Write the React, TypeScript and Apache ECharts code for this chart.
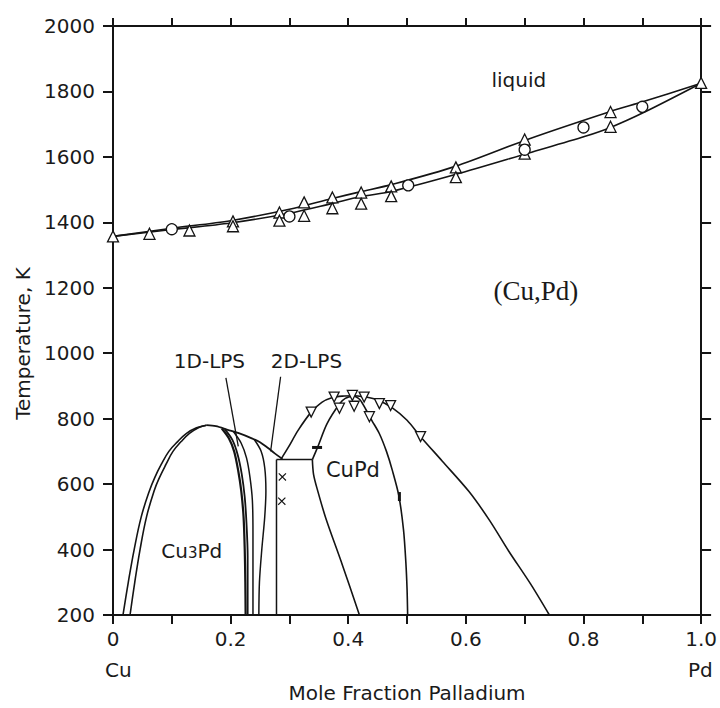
import React, { useEffect, useRef } from 'react';
import * as echarts from 'echarts';

// ---- Axis ticks ----
const xMin = 0, xMax = 1, xStep = 0.1;
const yMin = 200, yMax = 2000, yStep = 200;

// ---- Liquidus / solidus ----
const liquidus = [[0,1357],[0.1,1382],[0.2,1405],[0.3,1440],[0.373,1473],[0.42,1493],[0.475,1516],[0.582,1571],[0.707,1655],[0.846,1739],[0.902,1769],[1.0,1825]];
const solidus = [[0,1357],[0.1,1378],[0.2,1398],[0.3,1428],[0.373,1458],[0.42,1478],[0.475,1495],[0.582,1546],[0.707,1612],[0.803,1663],[0.846,1690],[0.904,1737],[1.0,1825]];
const liqTriangles = [[0,1357],[0.062,1365],[0.13,1375],[0.204,1403],[0.204,1388],[0.283,1430],[0.283,1405],[0.325,1461],[0.325,1420],[0.373,1476],[0.373,1443],[0.422,1491],[0.422,1457],[0.473,1510],[0.473,1480],[0.583,1568],[0.583,1538],[0.7,1653],[0.7,1610],[0.846,1737],[0.846,1692],[1.0,1826]];
const liqCircles = [[0.1,1379],[0.3,1418],[0.502,1513],[0.7,1622],[0.8,1690],[0.9,1753]];

// ---- Cu3Pd ordering dome ----
const cu3pdLeftOuter = [[0.017,200],[0.026,300],[0.036,400],[0.048,500],[0.062,580],[0.071,620],[0.082,660],[0.095,700],[0.11,730],[0.125,755],[0.142,772],[0.159,780]];
const cu3pdLeftInner = [[0.029,200],[0.037,300],[0.046,400],[0.057,500],[0.07,580],[0.079,620],[0.09,660],[0.102,700],[0.116,730],[0.13,755],[0.146,773],[0.159,780]];
const cu3pdTop = [[0.159,780],[0.175,777],[0.195,766],[0.215,755],[0.236,740],[0.25,728],[0.263,711],[0.275,694],[0.288,677]];
const branch1 = [[0.185,770],[0.197,740],[0.206,700],[0.213,640],[0.218,580],[0.222,500],[0.224,400],[0.225,300],[0.2255,200]];
const branch2 = [[0.19,768],[0.203,735],[0.212,690],[0.219,630],[0.224,560],[0.227,480],[0.229,380],[0.229,200]];
const branch3 = [[0.205,760],[0.218,725],[0.227,680],[0.233,620],[0.237,550],[0.238,450],[0.238,200]];
const branch4 = [[0.24,737],[0.252,700],[0.258,650],[0.26,580],[0.258,500],[0.253,400],[0.249,300],[0.248,200]];
const twoPhaseVertical = [[0.278,675],[0.278,200]];
const twoPhaseTieLine = [[0.278,675],[0.339,675]];

// ---- CuPd ordering dome ----
const cupdOuterLeft = [[0.286,677],[0.298,712],[0.315,765],[0.337,820],[0.355,850],[0.372,864],[0.39,869],[0.41,870]];
const cupdInnerLeft = [[0.339,675],[0.348,713],[0.364,785],[0.385,845],[0.395,862],[0.41,870]];
const cupdInnerRight = [[0.41,870],[0.42,858],[0.43,828],[0.44,795],[0.453,754],[0.465,700],[0.475,642],[0.486,565],[0.494,460],[0.498,360],[0.5,280],[0.501,200]];
const cupdOuterRight = [[0.41,870],[0.43,866],[0.45,857],[0.475,833],[0.5,795],[0.523,745],[0.56,670],[0.605,578],[0.64,490],[0.673,395],[0.71,295],[0.742,200]];
const cupdLowerLeft = [[0.339,675],[0.341,630],[0.348,580],[0.362,495],[0.39,353],[0.419,200]];

// ---- Ordering data points ----
const orderDownTriangles = [[0.337,820],[0.376,866],[0.385,832],[0.407,871],[0.41,838],[0.427,866],[0.436,806],[0.453,846],[0.472,840],[0.523,745]];
const dashPoints = [[0.347,712]];
const tickPoints = [[0.487,562]];
const crossPoints = [[0.288,622],[0.287,548]];

// ---- Leader lines ----
const leader1D = [[0.192,925],[0.213,715]];
const leader2D = [[0.285,928],[0.268,700]];

// ---- Region labels ----
const regionLabels = [
  { name: 'liquid', value: [0.69, 1835] },
  { name: '(Cu,Pd)', value: [0.719, 1190] },
  { name: 'Cu3Pd', value: [0.134, 395] },
  { name: 'CuPd', value: [0.408, 642] },
  { name: '1D-LPS', value: [0.164, 977] },
  { name: '2D-LPS', value: [0.329, 977] },
];

const INK = '#141414';
const TEXT = '#1a1a1a';
const FONT = 'DejaVu Sans';

function lineSeries(name: string, data: number[][], width = 1.5, smooth: number | boolean = 0.3) {
  return {
    name, type: 'line', data, smooth, symbol: 'none', showSymbol: false,
    lineStyle: { color: INK, width }, z: 2, silent: true,
  };
}

export default function App() {
  const ref = useRef<HTMLDivElement>(null);
  useEffect(() => {
    if (!ref.current) return;
    const chart = echarts.init(ref.current, null, { renderer: 'svg' });
    const axisCommon = {
      axisLine: { show: true, onZero: false, lineStyle: { color: INK, width: 2 } },
      splitLine: { show: false },
    };
    const openMarker = { color: '#fff', borderColor: INK, borderWidth: 1.3, opacity: 1 };
    const option: any = {
      animation: false,
      backgroundColor: '#ffffff',
      grid: { left: 113, right: 17, top: 26, bottom: 91 },
      xAxis: [
        {
          type: 'value', min: xMin, max: xMax, interval: xStep, position: 'bottom',
          ...axisCommon,
          axisTick: { show: true, inside: false, length: 9, lineStyle: { color: INK, width: 2 } },
          axisLabel: {
            margin: 14, fontSize: 20, fontFamily: FONT, color: TEXT,
            formatter: (v: number) => {
              const k = Math.round(v * 10);
              if (k % 2 !== 0) return '';
              if (k === 0) return '0';
              return (k / 10).toFixed(1);
            },
          },
          name: 'Mole Fraction Palladium', nameLocation: 'middle', nameGap: 68,
          nameTextStyle: { fontSize: 20, fontFamily: FONT, color: TEXT },
        },
        {
          type: 'value', min: xMin, max: xMax, interval: xStep, position: 'top',
          ...axisCommon,
          axisTick: { show: true, inside: false, length: 8, lineStyle: { color: INK, width: 2 } },
          axisLabel: { show: false },
        },
      ],
      yAxis: [
        {
          type: 'value', min: yMin, max: yMax, interval: yStep, position: 'left',
          ...axisCommon,
          axisTick: { show: true, inside: false, length: 10, lineStyle: { color: INK, width: 2 } },
          axisLabel: { margin: 18, fontSize: 20, fontFamily: FONT, color: TEXT, formatter: (v: number) => String(v) },
          name: 'Temperature, K', nameLocation: 'middle', nameGap: 78,
          nameTextStyle: { fontSize: 20, fontFamily: FONT, color: TEXT, padding: [0, 46, 0, 0] },
        },
        {
          type: 'value', min: yMin, max: yMax, interval: yStep, position: 'right',
          ...axisCommon,
          axisTick: { show: true, inside: false, length: 10, lineStyle: { color: INK, width: 2 } },
          axisLabel: { show: false },
        },
      ],
      graphic: [
        { type: 'text', x: 105, y: 670, style: { text: 'Cu', font: `20px "${FONT}"`, fill: TEXT, align: 'left', verticalAlign: 'middle' } },
        { type: 'text', x: 688, y: 670, style: { text: 'Pd', font: `20px "${FONT}"`, fill: TEXT, align: 'left', verticalAlign: 'middle' } },
      ],
      series: [
        lineSeries('liquidus', liquidus, 1.6),
        lineSeries('solidus', solidus, 1.6),
        lineSeries('Cu3Pd left outer', cu3pdLeftOuter, 1.6, 0.4),
        lineSeries('Cu3Pd left inner', cu3pdLeftInner, 1.6, 0.4),
        lineSeries('Cu3Pd top', cu3pdTop, 1.8),
        lineSeries('branch 1', branch1, 2.2),
        lineSeries('branch 2', branch2, 1.8),
        lineSeries('branch 3', branch3, 1.5),
        lineSeries('branch 4', branch4, 1.5),
        lineSeries('two-phase vertical', twoPhaseVertical, 1.5, false),
        lineSeries('two-phase tie line', twoPhaseTieLine, 1.5, false),
        lineSeries('CuPd outer left', cupdOuterLeft, 1.6),
        lineSeries('CuPd inner left', cupdInnerLeft, 1.6),
        lineSeries('CuPd inner right', cupdInnerRight, 1.6),
        lineSeries('CuPd outer right', cupdOuterRight, 1.6),
        lineSeries('CuPd lower left', cupdLowerLeft, 1.6),
        lineSeries('leader 1D', leader1D, 1.3, false),
        lineSeries('leader 2D', leader2D, 1.3, false),
        {
          name: 'liquid triangles', type: 'scatter', data: liqTriangles, symbol: 'triangle', symbolSize: 11,
          itemStyle: openMarker, z: 4,
        },
        {
          name: 'liquid circles', type: 'scatter', data: liqCircles, symbol: 'circle', symbolSize: 11,
          itemStyle: openMarker, z: 4,
        },
        {
          name: 'ordering triangles', type: 'scatter', data: orderDownTriangles, symbol: 'triangle', symbolRotate: 180, symbolSize: 10,
          itemStyle: openMarker, z: 4,
        },
        {
          name: 'dash', type: 'scatter', data: dashPoints, symbol: 'rect', symbolSize: [10, 3],
          itemStyle: { color: INK, opacity: 1 }, z: 4,
        },
        {
          name: 'tick', type: 'scatter', data: tickPoints, symbol: 'rect', symbolSize: [3, 9],
          itemStyle: { color: INK, opacity: 1 }, z: 4,
        },
        {
          name: 'cross', type: 'scatter', data: crossPoints,
          symbol: 'path://M0,1L1,0L5,4L9,0L10,1L6,5L10,9L9,10L5,6L1,10L0,9L4,5Z', symbolSize: 8,
          itemStyle: { color: INK, opacity: 1 }, z: 4,
        },
        {
          name: 'labels', type: 'scatter', data: regionLabels, symbolSize: 1,
          itemStyle: { color: 'rgba(0,0,0,0)', opacity: 1 }, z: 5, silent: true,
          label: {
            show: true, position: 'inside', color: TEXT, fontFamily: FONT, fontSize: 20, opacity: 1,
            textBorderWidth: 0, textBorderColor: 'transparent',
            formatter: (p: any) => {
              if (p.name === 'Cu3Pd') return 'Cu{s|3}Pd';
              if (p.name === '(Cu,Pd)') return '{serif|(Cu,Pd)}';
              if (p.name === 'CuPd') return '{big|CuPd}';
              return p.name;
            },
            rich: {
              s: { fontSize: 15, fontFamily: FONT, color: TEXT, padding: [4, 0, 0, 0], textBorderWidth: 0 },
              serif: { fontSize: 27, fontFamily: 'Liberation Serif', color: TEXT, textBorderWidth: 0 },
              big: { fontSize: 21, fontFamily: FONT, color: TEXT, textBorderWidth: 0 },
            },
          },
        },
      ],
    };
    chart.setOption(option);
    return () => chart.dispose();
  }, []);
  return (
    <div
      ref={ref}
      style={{ position: 'fixed', left: 0, top: 0, width: 720, height: 708, background: '#fff' }}
    />
  );
}
